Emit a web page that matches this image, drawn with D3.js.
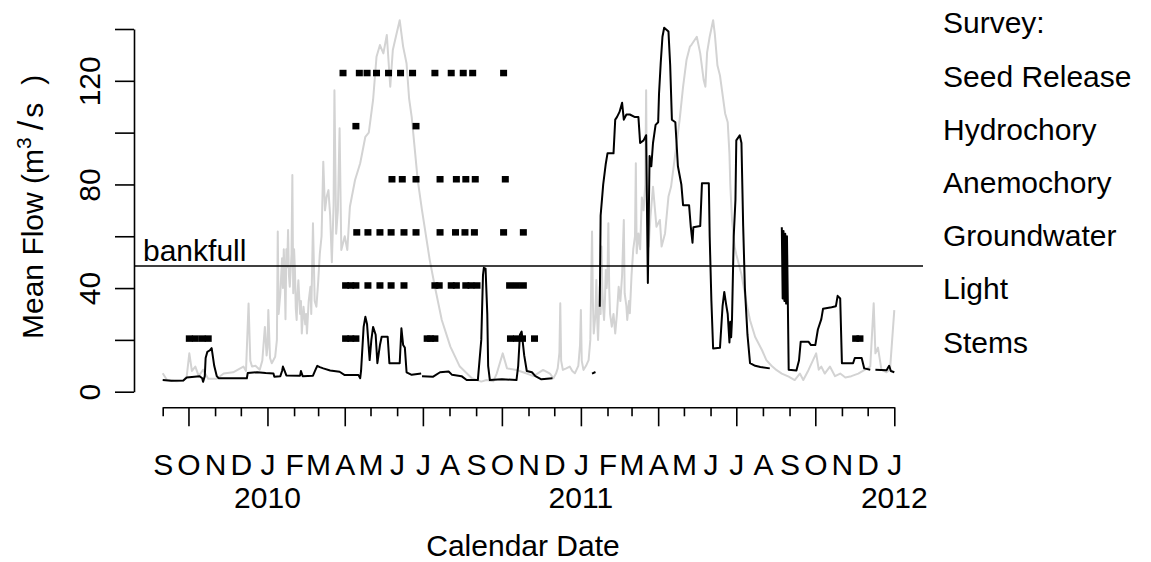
<!DOCTYPE html>
<html>
<head>
<meta charset="utf-8">
<script src="https://cdn.jsdelivr.net/npm/d3@7"></script>
<style>
  body { margin: 0; background: #fff; }
  text { font-family: "Liberation Sans", Arial, sans-serif; fill: #000; }
</style>
</head>
<body>
<svg id="chart" width="1151" height="562"></svg>
<script>
// Day offsets are counted from 1 September 2009.
const startDate = new Date(Date.UTC(2009, 8, 1));
const endDate = new Date(Date.UTC(2012, 0, 1));

// Reference flow record (grey), [day, m3/s]
const referenceFlow = [
  [0,7.1],[5,4.5],[16,4],[24,4.2],[28,6],[31,14.8],[34,8],[38,9.7],[42,6],[47,8.5],[53,5],[63,5],
  [71,7],[82,7.5],[94,9.7],[97,8],[100,34],[102,12],[104,9.7],[108,10],[113,8.5],[116,12],[119,25],
  [121,14],[122,17],[123,31.5],[125,13],[127,11],[131,13.5],[133,20],[134,61.8],[135,30],[137,38],
  [138,45],[139,51.5],[140,40],[141,55],[142,45],[143,28],[144,55],[145,48],[146,62.4],[147,45],
  [148,40.5],[150,53],[151,83.6],[152,38],[153,55],[154,47],[155,32],[156,27.7],[157,38],[158,43],
  [160,30],[161,35],[162,22.5],[163,28],[164,32.8],[166,26],[167,30],[168,22.5],[170,35],[172,40.5],
  [173,30],[175,65],[177,35],[179,32.8],[181,42],[183,53.4],[185,60],[187,88.8],[189,70],[191,75.3],
  [193,77.8],[195,68],[197,50],[199,72],[200,116.4],[202,61],[204,70],[206,101.7],[208,54.7],
  [212,60],[215,54.7],[218,71.4],[224,81.7],[230,88.2],[236,98.4],[240,100],[245,112.6],
  [249,129.3],[253,133.8],[257,130.6],[261,137.7],[265,117.7],[268,131.9],[272,137.7],[276,143.4],
  [280,133.2],[284,126.7],[287,113],[290,106],[297,81.7],[302,70],[311,50.8],[317,40.5],[325,27.7],
  [335,17.4],[346,9.7],[360,5.2],[371,3.9],[377,4.5],[385,4],[389,7],[396,14.8],[401,9],[412,8.4],
  [424,7],[432,6],[443,8.4],[451,7],[455,5.2],[458,7],[460,9],[462,15],[463,34.1],[464,12],
  [466,8.4],[470,9],[474,9.7],[477,8],[480,7.1],[484,10],[486,18],[487,31.5],[488,12],[490,8.4],
  [493,10],[496,12.2],[498,20],[500,61.8],[501,35],[502,22.5],[504,30],[505,43.1],[506,28],
  [507,20],[508,30],[509,40.5],[510,30],[511,56],[512,40],[513,32],[514,27.7],[515,35],[516,47],
  [517,40],[518,45],[519,65],[520,40],[521,30],[523,25.1],[525,30],[527,22.5],[529,30],[531,40.5],
  [533,35],[535,45],[537,66.3],[538,38],[540,33],[541,27.7],[543,35],[544,30.3],[546,45],[548,55],
  [550,60],[551,88.2],[552,53.4],[554,61.1],[556,55],[558,75],[560,70],[562,80],[563,116.4],
  [564,70],[566,56],[568,67.5],[571,79.1],[573,71.4],[575,63.7],[579,66.3],[581,56],[585,61.1],
  [589,75.3],[592,79.1],[595,86.8],[599,97.1],[602,104.9],[606,117.7],[610,128],[614,133.2],
  [616,134],[622,137],[626,130.6],[630,120.3],[632,117.7],[634,131],[637,137],[641,143.4],
  [643,138],[646,126],[649,122],[655,107.4],[658,104],[660,92],[661,80],[663,66.3],[666,56],
  [668,53],[674,45.3],[680,34],[684,27.6],[690,21.1],[698,16],[703,12.2],[709,10],[715,8.3],
  [721,7],[729,5.8],[736,4.5],[742,7],[746,4.5],[752,8.3],[761,14.8],[764,8.5],[767,9.7],[771,7],
  [777,9.7],[783,6],[789,7],[795,5.5],[802,6],[810,7],[818,8.5],[824,9.7],[828,34.1],[830,14.8],
  [833,17],[837,8.5],[843,7.5],[847,8.5],[852,31.5]
];

// Observed mean flow (black); null marks a break in the record
const observedFlow = [
  [0,4.5],[10,4.2],[24,4.3],[28,5.5],[43,6],[46,5.2],[47,3.8],[49,6],[50,13],[52,15.4],[55,16],
  [57,16.8],[60,10],[63,6],[65,5.2],[98,5.2],[99,7.2],[110,7.5],[120,7.2],[129,7],[130,5.8],
  [137,6],[139,8],[140,9.7],[142,8],[144,6.3],[160,6.2],[161,8],[163,6],[175,6.2],[178,8.5],
  [180,10],[183,9.5],[187,9],[195,8.2],[206,7.7],[212,6.4],[228,6.4],[230,5.2],[231,8],[234,25],
  [236,28.9],[238,26],[241,12.2],[243,20],[245,25],[248,22],[250,11],[253,18],[255,21.2],
  [262,21.2],[264,11],[276,11],[278,24.5],[280,18],[282,17],[284,7.5],[290,6.5],[301,7],
  null,
  [302,6],[315,5.8],[323,7.5],[333,7.8],[337,6.5],[348,6],[354,4.5],[367,4.5],[371,20],[373,45],
  [374,47.8],[376,47.5],[378,30],[379,10],[381,4.5],[395,4.8],[412,4.5],[414,10],[416,22],
  [418,23.2],[421,14],[424,8],[430,7.5],[434,6],[441,4.8],[454,5.2],
  null,
  [500,7],[504,7.6],
  null,
  [509,32.8],[510,68],[512,76],[513,80],[516,88],[518,92],[525,92],[527,105],[529,106],[532,108],
  [535,111.5],[537,105],[540,107],[544,107],[550,106],[554,106],[556,96],[560,97],[563,99],
  [565,42],[567,91],[569,87],[571,96],[574,103],[577,104],[578,115],[580,127],[582,137],
  [584,140.5],[589,139],[591,126],[593,105],[597,104],[600,87],[604,80],[606,72],[613,72],
  [615,63.6],[617,57.5],[618,63.5],[626,64],[628,80.5],[636,80.5],[637,60],[639,35],[641,16.7],
  [649,17],[652,33],[654,38.5],[656,34],[658,30],[660,19],[661,27],[662,21],[663,28],[665,60],
  [667,74],[668,97],[672,99],[674,96],[676,64],[678,40],[681,22],[684,11],[690,10],[696,9.5],
  [707,9],
  null,
  [721,63.5],[722,36],[723,62],[724,35],[725,61],[726,34],[727,60],[728,35],[729,8.5],[738,8.2],
  [741,12],[743,19.3],[752,19.3],[755,18],[760,18],[763,24],[767,28],[769,32],[779,32.6],
  [784,33],[786,37],[789,36],[791,11],[804,11],[806,13],[814,13],[817,9],[824,8.5],
  null,
  [830,8.5],[843,8.3],[846,10],[848,8],[852,7.5]
];

// Survey dates (day offsets) for each survey type
const seedRelease = [210, 229, 238, 249, 263, 277, 291, 317, 336, 350, 361, 397];
const hydrochory = [225, 295];
const anemochory = [267, 279, 295, 323, 342, 353, 364, 399];
const groundwater = [226, 239, 253, 266, 281, 295, 323, 341, 352, 363, 397, 420];
const light = [213, 219, 225, 239, 253, 266, 281, 317, 322, 336, 342, 353, 359, 366, 404, 412, 420];
const stems = [31, 38, 46, 53, 213, 219, 225, 308, 312, 317, 405, 412, 419, 433, 807, 812];

const surveyNames = ["Stems", "Light", "Groundwater", "Anemochory", "Hydrochory", "Seed Release"];
const surveyLevels = [20.5, 41, 61.5, 82, 102.5, 123];
const surveyHeaderLevel = 143.5;
const bankfull = 48.5;

const yTicks = [0, 20, 40, 60, 80, 100, 120, 140];
const yLabels = [0, 40, 80, 120];
const monthLetters = ["J","F","M","A","M","J","J","A","S","O","N","D"];
const yearLabels = [2010, 2011, 2012];

const surveys = [stems, light, groundwater, anemochory, hydrochory, seedRelease];

const svg = d3.select("#chart");
const dayDate = d => d3.utcDay.offset(startDate, d);

const x = d3.scaleUtc().domain([startDate, endDate]).range([162.7, 894.3]);
const y = d3.scaleLinear().domain([0, 140]).range([391.7, 29]);
const plotLeft = 134, plotRight = 923, plotBottom = 407.3;
const fontSize = 30;

// Flow lines
const line = d3.line()
  .defined(d => d !== null)
  .x(d => x(dayDate(d[0])))
  .y(d => y(d[1]));

svg.append("path").datum(referenceFlow)
  .attr("d", line).attr("fill", "none")
  .attr("stroke", "#d3d3d3").attr("stroke-width", 2).attr("stroke-linejoin", "round");

svg.append("path").datum(observedFlow)
  .attr("d", line).attr("fill", "none")
  .attr("stroke", "#000").attr("stroke-width", 2).attr("stroke-linejoin", "round");

// Bankfull reference line
svg.append("line")
  .attr("x1", plotLeft).attr("x2", plotRight)
  .attr("y1", y(bankfull)).attr("y2", y(bankfull))
  .attr("stroke", "#000").attr("stroke-width", 1.6);
svg.append("text").attr("x", 143).attr("y", y(bankfull) - 5)
  .attr("font-size", fontSize).text("bankfull");

// Survey markers
const sq = 7, sqH = 6.5;
surveys.forEach((days, i) => {
  svg.append("g").selectAll("rect").data(days).join("rect")
    .attr("x", d => x(dayDate(d)) - sq / 2)
    .attr("y", y(surveyLevels[i]) - sqH / 2)
    .attr("width", sq).attr("height", sqH)
    .attr("fill", "#000");
});

// Survey labels at the right margin
const legend = svg.append("g").attr("font-size", fontSize);
legend.append("text").attr("x", 943).attr("y", y(surveyHeaderLevel) + 13).text("Survey:");
surveyNames.forEach((name, i) => {
  legend.append("text").attr("x", 943).attr("y", y(surveyLevels[i]) + 14).text(name);
});

// Y axis
const yAxis = svg.append("g")
  .attr("transform", `translate(${plotLeft},0)`)
  .call(d3.axisLeft(y).tickValues(yTicks).tickSize(19).tickSizeOuter(0)
    .tickFormat(d => yLabels.includes(d) ? d : ""));
yAxis.select(".domain").attr("stroke-width", 1.6);
yAxis.selectAll(".tick line").attr("stroke-width", 1.6);
yAxis.selectAll(".tick text")
  .attr("x", null).attr("dy", null)
  .attr("transform", "translate(-34,0) rotate(-90)")
  .attr("text-anchor", "middle")
  .attr("font-size", fontSize).attr("font-family", null);

// Y axis title, written upward from the bottom
const yTitle = svg.append("text")
  .attr("transform", `translate(43,339) rotate(-90)`)
  .attr("text-anchor", "start").attr("font-size", fontSize);
yTitle.append("tspan").text("Mean Flow (m");
yTitle.append("tspan").attr("font-size", fontSize * 0.7).attr("dy", -12).text("3");
yTitle.append("tspan").attr("dy", 12).attr("dx", 7).attr("font-size", fontSize * 1.15).text("/");
yTitle.append("tspan").attr("dx", 3).text("s");
yTitle.append("tspan").attr("dx", 18).text(")");

// X axis with monthly ticks, longer at quarter starts
const months = d3.utcMonth.range(startDate, d3.utcDay.offset(endDate, 1));
const xAxis = svg.append("g")
  .attr("transform", `translate(0,${plotBottom})`)
  .call(d3.axisBottom(x).tickValues(months).tickSize(19).tickSizeOuter(0)
    .tickFormat(d => monthLetters[d.getUTCMonth()]));
xAxis.select(".domain").attr("stroke-width", 1.6);
xAxis.selectAll(".tick line")
  .attr("y2", d => d.getUTCMonth() % 3 === 0 ? 19 : 9)
  .attr("stroke-width", 1.6);
xAxis.selectAll(".tick text")
  .attr("y", 68).attr("dy", null)
  .attr("font-size", fontSize).attr("font-family", null);

// Year labels under January ticks
svg.append("g").selectAll("text").data(yearLabels).join("text")
  .attr("x", d => x(new Date(Date.UTC(d, 0, 1))))
  .attr("y", 508).attr("text-anchor", "middle")
  .attr("font-size", fontSize).text(d => d);

// X axis title
svg.append("text").attr("x", 523).attr("y", 556)
  .attr("text-anchor", "middle").attr("font-size", fontSize).text("Calendar Date");
</script>
</body>
</html>
